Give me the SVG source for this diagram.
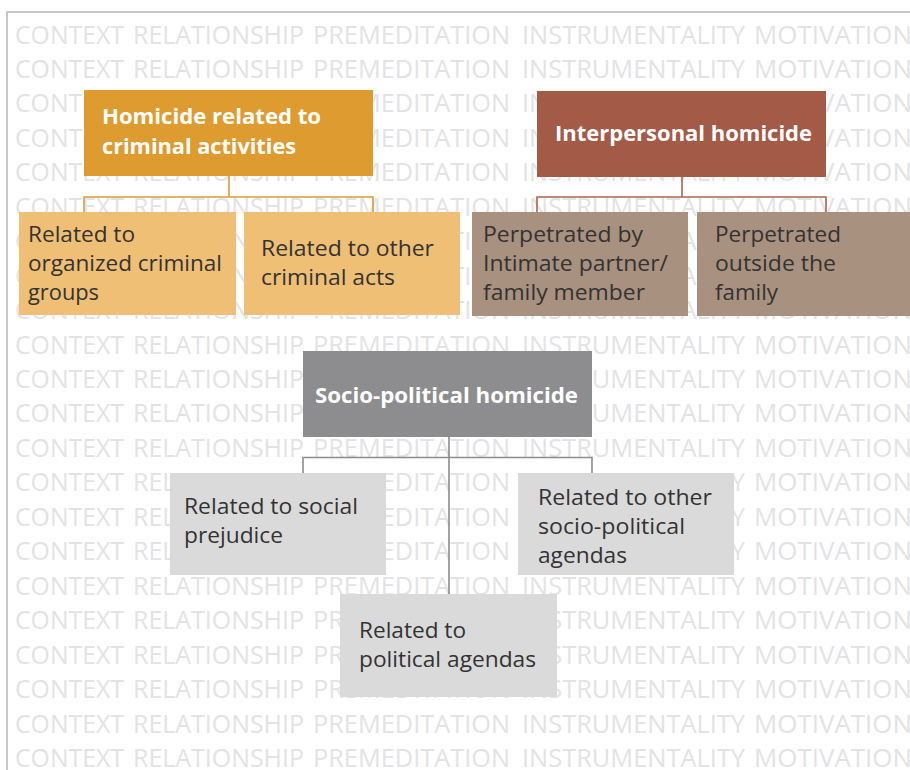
<svg xmlns="http://www.w3.org/2000/svg" xmlns:xlink="http://www.w3.org/1999/xlink" width="910" height="770" viewBox="0 0 910 770">
<style>
.bg{font-family:"Open Sans","Liberation Sans",sans-serif;font-size:25px;fill:#e3e3e5}
.hd{font-family:"Open Sans","Liberation Sans",sans-serif;font-size:22px;font-weight:bold;fill:#ffffff}
.tx{font-family:"Open Sans","Liberation Sans",sans-serif;font-size:21px;fill:#333333}
.lo{fill:none;stroke:#dc9a35;stroke-width:1.6}
.lb{fill:none;stroke:#b0614d;stroke-width:1.6}
.lg{fill:none;stroke:#8c8c8c;stroke-width:1.6}
</style>
<defs>
<g id="row">
<text class="bg" x="15" textLength="109" lengthAdjust="spacingAndGlyphs">CONTEXT</text>
<text class="bg" x="133" textLength="171" lengthAdjust="spacingAndGlyphs">RELATIONSHIP</text>
<text class="bg" x="313" textLength="197" lengthAdjust="spacingAndGlyphs">PREMEDITATION</text>
<text class="bg" x="522" textLength="223" lengthAdjust="spacingAndGlyphs">INSTRUMENTALITY</text>
<text class="bg" x="754" textLength="158" lengthAdjust="spacingAndGlyphs">MOTIVATION</text>
</g>
</defs>
<rect width="910" height="770" fill="#ffffff"/>
<g id="background">
<use xlink:href="#row" href="#row" y="43.5"/>
<use xlink:href="#row" href="#row" y="77.9"/>
<use xlink:href="#row" href="#row" y="112.4"/>
<use xlink:href="#row" href="#row" y="146.8"/>
<use xlink:href="#row" href="#row" y="181.3"/>
<use xlink:href="#row" href="#row" y="215.7"/>
<use xlink:href="#row" href="#row" y="250.2"/>
<use xlink:href="#row" href="#row" y="284.6"/>
<use xlink:href="#row" href="#row" y="319.1"/>
<use xlink:href="#row" href="#row" y="353.5"/>
<use xlink:href="#row" href="#row" y="388"/>
<use xlink:href="#row" href="#row" y="422.4"/>
<use xlink:href="#row" href="#row" y="456.9"/>
<use xlink:href="#row" href="#row" y="491.3"/>
<use xlink:href="#row" href="#row" y="525.8"/>
<use xlink:href="#row" href="#row" y="560.2"/>
<use xlink:href="#row" href="#row" y="594.7"/>
<use xlink:href="#row" href="#row" y="629.1"/>
<use xlink:href="#row" href="#row" y="663.6"/>
<use xlink:href="#row" href="#row" y="698"/>
<use xlink:href="#row" href="#row" y="732.5"/>
<use xlink:href="#row" href="#row" y="766.9"/>
</g>
<path d="M7 771 V12 H911" fill="none" stroke="#c9c9c9" stroke-width="2"/>
<g id="connectors">
<path class="lo" d="M229 176 V197 M84 212 V197 H373 V212"/>
<path class="lb" d="M682 177 V197 M537 212 V197 H826 V212"/>
<path class="lg" d="M449 437 V594 M303 473 V457.5 H592 V473"/>
</g>
<g id="crime">
<rect x="84" y="90" width="289" height="86" fill="#de9b2f"/>
<text class="hd" x="102" y="124" textLength="219" lengthAdjust="spacingAndGlyphs">Homicide related to</text>
<text class="hd" x="102" y="154" textLength="194" lengthAdjust="spacingAndGlyphs">criminal activities</text>
</g>
<g id="organized">
<rect x="19" y="212" width="217" height="103" fill="#eebf75"/>
<text class="tx" x="28" y="242" textLength="107" lengthAdjust="spacingAndGlyphs">Related to</text>
<text class="tx" x="28" y="271" textLength="194" lengthAdjust="spacingAndGlyphs">organized criminal</text>
<text class="tx" x="28" y="300" textLength="71" lengthAdjust="spacingAndGlyphs">groups</text>
</g>
<g id="othercrime">
<rect x="244" y="212" width="216" height="103" fill="#eebf75"/>
<text class="tx" x="261" y="256" textLength="173" lengthAdjust="spacingAndGlyphs">Related to other</text>
<text class="tx" x="261" y="285" textLength="134" lengthAdjust="spacingAndGlyphs">criminal acts</text>
</g>
<g id="interpersonal">
<rect x="537" y="91" width="289" height="86" fill="#a35a47"/>
<text class="hd" x="555" y="141" textLength="257" lengthAdjust="spacingAndGlyphs">Interpersonal homicide</text>
</g>
<g id="intimate">
<rect x="472" y="212" width="216" height="104" fill="#a8917f"/>
<text class="tx" x="483" y="242" textLength="160" lengthAdjust="spacingAndGlyphs">Perpetrated by</text>
<text class="tx" x="483" y="271" textLength="185" lengthAdjust="spacingAndGlyphs">Intimate partner/</text>
<text class="tx" x="483" y="300" textLength="162" lengthAdjust="spacingAndGlyphs">family member</text>
</g>
<g id="outside">
<rect x="697" y="212" width="220" height="104" fill="#a8917f"/>
<text class="tx" x="715" y="242" textLength="126" lengthAdjust="spacingAndGlyphs">Perpetrated</text>
<text class="tx" x="715" y="271" textLength="121" lengthAdjust="spacingAndGlyphs">outside the</text>
<text class="tx" x="715" y="300" textLength="63" lengthAdjust="spacingAndGlyphs">family</text>
</g>
<g id="sociopolitical">
<rect x="303" y="351" width="289" height="86" fill="#8d8d8f"/>
<text class="hd" x="315" y="403" textLength="263" lengthAdjust="spacingAndGlyphs">Socio-political homicide</text>
</g>
<g id="prejudice">
<rect x="170" y="473" width="216" height="102" fill="#dadadb"/>
<text class="tx" x="184" y="514" textLength="174" lengthAdjust="spacingAndGlyphs">Related to social</text>
<text class="tx" x="184" y="543" textLength="99" lengthAdjust="spacingAndGlyphs">prejudice</text>
</g>
<g id="otheragendas">
<rect x="518" y="473" width="216" height="102" fill="#dadadb"/>
<text class="tx" x="538" y="505" textLength="174" lengthAdjust="spacingAndGlyphs">Related to other</text>
<text class="tx" x="538" y="534" textLength="147" lengthAdjust="spacingAndGlyphs">socio-political</text>
<text class="tx" x="538" y="563" textLength="89" lengthAdjust="spacingAndGlyphs">agendas</text>
</g>
<g id="political">
<rect x="340" y="594" width="217" height="103" fill="#dadadb"/>
<text class="tx" x="359" y="638" textLength="107" lengthAdjust="spacingAndGlyphs">Related to</text>
<text class="tx" x="359" y="667" textLength="177" lengthAdjust="spacingAndGlyphs">political agendas</text>
</g>
</svg>
